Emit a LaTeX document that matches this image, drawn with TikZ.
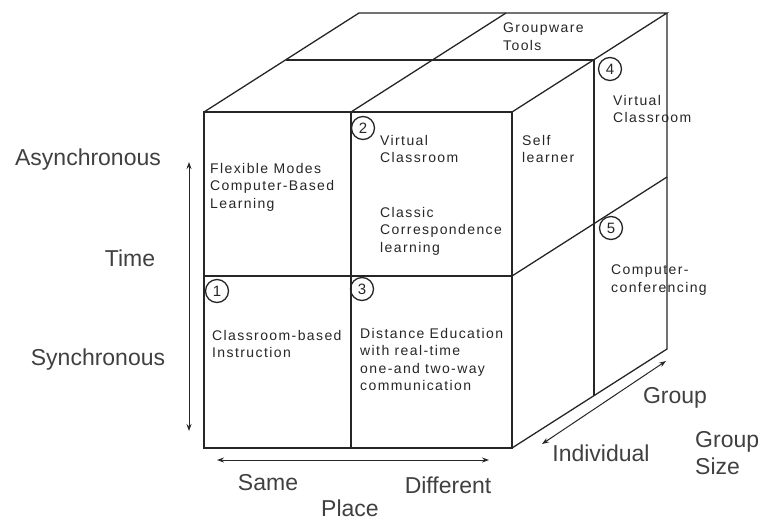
\documentclass[tikz,border=0pt]{standalone}
\usepackage{fontspec}
\setmainfont{Liberation Sans}
\newfontfamily\cellfont[LetterSpace=10]{Liberation Sans}
\usetikzlibrary{arrows.meta}
\tikzset{
  edge/.style={line width=1.3pt, draw=black!85},
  cell/.style={font=\cellfont\fontsize{14}{17.5}\selectfont, align=left, anchor=north west, inner sep=0pt, text=black!85},
  big/.style={font=\fontsize{23}{27}\selectfont, inner sep=0pt, text=black!75},
  num/.style={circle, draw=black!85, line width=1.3pt, minimum size=23pt, inner sep=0pt, font=\fontsize{15}{15}\selectfont, text=black!85},
  axis/.style={{Stealth[length=7pt,width=5pt]}-{Stealth[length=7pt,width=5pt]}, line width=1pt, draw=black!85}
}
\begin{document}
\begin{tikzpicture}[x=1pt,y=-1pt]
\useasboundingbox (0,0) rectangle (765,520);
% front face corners
\coordinate (A) at (204,112);
\coordinate (B) at (512,112);
\coordinate (C) at (512,448);
\coordinate (D) at (204,448);
\coordinate (Mt) at (351,112);
\coordinate (Mb) at (351,448);
\coordinate (Ml) at (204,276);
\coordinate (Mr) at (512,276);
% back corners (offset 155,-99)
\coordinate (Ab) at (359,13);
\coordinate (Bb) at (667,13);
\coordinate (Cb) at (667,349);
\coordinate (Mtb) at (506,13);
\coordinate (Mrb) at (667,177);
% mid-depth corners (offset 82,-52)
\coordinate (Am) at (286,60);
\coordinate (Bm) at (594,60);
\coordinate (Cm) at (594,396);
% front face
\draw[edge] (A) rectangle (C);
\draw[edge] (Mt) -- (Mb);
\draw[edge] (Ml) -- (Mr);
% top face
\draw[edge] (A) -- (Ab) -- (Bb) -- (B);
\draw[edge] (Mt) -- (Mtb);
\draw[edge] (Am) -- (Bm);
% right face
\draw[edge] (Bb) -- (Cb) -- (C);
\draw[edge] (Bm) -- (Cm);
\draw[edge] (Mr) -- (Mrb);
% axes
\coordinate (t1) at (189,162);
\coordinate (t2) at (189,431);
\draw[axis] (t1) -- (t2);
\coordinate (p1) at (217,460);
\coordinate (p2) at (489,460);
\draw[axis] (p1) -- (p2);
\coordinate (g1) at (542,444);
\coordinate (g2) at (666,361);
\draw[axis] (g1) -- (g2);
% circled numbers
\node[num] (n1) at (217,291) {1};
\node[num] (n2) at (363,128) {2};
\node[num] (n3) at (362,289) {3};
\node[num] (n4) at (610,69) {4};
\node[num] (n5) at (611,228) {5};
% cell texts
\node[cell] (c1) at (210,163) {Flexible Modes\\Computer-Based\\Learning};
\node[cell] (c2) at (380,135) {Virtual\\Classroom};
\node[cell] (c3) at (380,207) {Classic\\Correspondence\\learning};
\node[cell] (c4) at (522,135) {Self\\learner};
\node[cell] (c5) at (503,23) {Groupware\\Tools};
\node[cell] (c6) at (613,95) {Virtual\\Classroom};
\node[cell] (c7) at (611,265) {Computer-\\conferencing};
\node[cell] (c8) at (212,330) {Classroom-based\\Instruction};
\node[cell] (c9) at (360,328) {Distance Education\\with real-time\\one-and two-way\\communication};
% axis labels
\node[big] (l1) at (88,160) {Asynchronous};
\node[big] (l2) at (130,258) {Time};
\node[big] (l3) at (98,360) {Synchronous};
\node[big] (l4) at (268,483) {Same};
\node[big] (l5) at (448,485) {Different};
\node[big] (l6) at (350,508) {Place};
\node[big] (l7) at (675,398) {Group};
\node[big] (l8) at (601,453) {Individual};
\node[big, align=left, anchor=west] (l9) at (695,453) {Group\\Size};
\end{tikzpicture}
\end{document}
